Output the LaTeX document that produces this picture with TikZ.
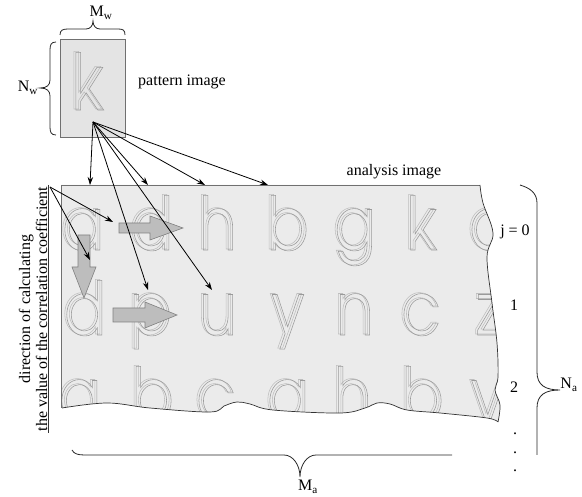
\documentclass[tikz,border=0pt]{standalone}
\usepackage{fontspec}
\setmainfont{Liberation Serif}
\newfontfamily\geofont[FakeStretch=0.82]{texgyreadventor-regular.otf}
\usetikzlibrary{arrows.meta}
\definecolor{imgfill}{HTML}{EBEBEB}
\definecolor{patfill}{HTML}{E4E4E4}
\definecolor{edgegray}{HTML}{707070}
\definecolor{letgray}{HTML}{9A9A9A}
\definecolor{letshade}{HTML}{BEBEBE}
\definecolor{blkfill}{HTML}{BDBDBD}
\definecolor{blkedge}{HTML}{808080}
\newcommand\hollow[1]{\special{pdf:literal direct 1 Tr 0.55 w}#1\special{pdf:literal direct 0 Tr}}
\tikzset{
  lbl/.style={font=\fontsize{16}{17}\selectfont, inner sep=0pt},
  letter/.style={anchor=base, inner sep=0pt, text=letgray, font=\geofont\fontsize{74}{74}\selectfont},
  lettershade/.style={letter, text=letshade, xshift=-2pt, yshift=1pt},
  conn/.style={line width=0.8pt, -{Stealth[length=8pt,width=5.5pt]}},
  blockarrow/.style={fill=blkfill, draw=blkedge, line width=0.6pt, line join=miter},
  bracestyle/.style={line width=0.8pt, draw=black!85}
}
\begin{document}
\begin{tikzpicture}[x=1pt,y=-1pt]
\useasboundingbox (0,0) rectangle (582,497);

% analysis image
\def\anapath{(61,185) -- (480,185) -- plot[smooth, tension=0.6] coordinates {(480,185) (483,203) (493,233) (487,257) (492,303) (497,343) (498,377) (495,390) (500,405) (498,422)} -- plot[smooth, tension=0.6] coordinates {(498,422) (487,418) (440,413) (407,410) (390,404) (377,403) (365,408) (340,413) (273,410) (250,404) (237,402) (224,406) (210,412) (150,408) (107,403) (62,408)} -- cycle}
\fill[imgfill] \anapath;
\begin{scope}
\clip \anapath;
\foreach \ch [count=\i from 0] in {a,d,h,b,g,k,c} {
  \pgfmathsetmacro\xx{{83,152,218,288,355,422,489}[\i]}
  \node[lettershade] (r0s\i) at (\xx,250) {\hollow{\ch}};
  \node[letter] (r0c\i) at (\xx,250) {\hollow{\ch}};
}
\foreach \ch [count=\i from 0] in {d,p,u,y,n,c,z} {
  \pgfmathsetmacro\xx{{85,151,218,288,355,421,490}[\i]}
  \node[lettershade] (r1s\i) at (\xx,335) {\hollow{\ch}};
  \node[letter] (r1c\i) at (\xx,335) {\hollow{\ch}};
}
\foreach \ch [count=\i from 0] in {a,b,c,a,h,b,v} {
  \pgfmathsetmacro\xx{{80,153,216,288,353,423,488}[\i]}
  \node[lettershade] (r2s\i) at (\xx,421) {\hollow{\ch}};
  \node[letter] (r2c\i) at (\xx,421) {\hollow{\ch}};
}
\end{scope}
\draw[edgegray, line width=0.7pt] (61,408) -- (61,185) -- (480,185);
\draw[black!80, line width=0.7pt] plot[smooth, tension=0.6] coordinates {(480,185) (483,203) (493,233) (487,257) (492,303) (497,343) (498,377) (495,390) (500,405) (498,422)};
\draw[black!80, line width=0.7pt] plot[smooth, tension=0.6] coordinates {(498,422) (487,418) (440,413) (407,410) (390,404) (377,403) (365,408) (340,413) (273,410) (250,404) (237,402) (224,406) (210,412) (150,408) (107,403) (62,408)};

% pattern image
\node[draw=edgegray, fill=patfill, line width=0.7pt, minimum width=65pt, minimum height=98pt, anchor=north west, inner sep=0pt] (pattern) at (60,39) {};
\node[lettershade, font=\geofont\fontsize{78}{78}\selectfont] (pks) at (88,110) {\hollow{k}};
\node[letter, font=\geofont\fontsize{78}{78}\selectfont] (pk) at (88,110) {\hollow{k}};

% labels
\node[lbl] (mw) at (101,13) {M\textsubscript{w}};
\node[lbl] (nw) at (28,88) {N\textsubscript{w}};
\node[lbl] (patlbl) at (182,82) {pattern image};
\node[lbl] (analbl) at (394,172) {analysis image};
\node[lbl] (j0) at (515,232) {j = 0};
\node[lbl] (j1) at (514,305) {1};
\node[lbl] (j2) at (514,387) {2};
\node[lbl] (dot1) at (515,434) {.};
\node[lbl] (dot2) at (515,453) {.};
\node[lbl] (dot3) at (515,471) {.};
\node[lbl] (na) at (569,385) {N\textsubscript{a}};
\node[lbl] (ma) at (308,487) {M\textsubscript{a}};
\node[lbl, rotate=90, align=center] (dirtext) at (33,309) {direction of calculating\\the value of the correlation coefficient};
\coordinate (ul1) at (48,185);
\coordinate (ul2) at (48,433);
\draw[line width=0.8pt, black!80] (ul1) -- (ul2);

% braces
\draw[bracestyle] (60,35) .. controls (60,30) and (63,29) .. (68,29) -- (86,29) .. controls (90,29) and (93,26) .. (93,21) .. controls (93,26) and (96,29) .. (100,29) -- (118,29) .. controls (123,29) and (125,30) .. (125,35);
\draw[bracestyle] (56,42) .. controls (51,42) and (50,45) .. (50,50) -- (50,80) .. controls (50,85) and (47,88) .. (40,88) .. controls (47,88) and (50,91) .. (50,96) -- (50,127) .. controls (50,132) and (51,135) .. (56,135);
\draw[bracestyle] (520,185) .. controls (530,188) and (537,193) .. (537,203) -- (537,372) .. controls (537,385) and (545,390) .. (560,390) .. controls (545,390) and (537,395) .. (537,408) -- (537,455);
\draw[bracestyle] (72,450) .. controls (74,454) and (78,455) .. (85,455) -- (284,455) .. controls (293,455) and (300,465) .. (300,477) .. controls (300,465) and (307,455) .. (316,455) -- (452,455);

% block arrows
\draw[blockarrow] (119,223) -- (150,223) -- (150,216) -- (183,228) -- (150,240) -- (150,233) -- (119,233) -- cycle;
\draw[blockarrow] (78,235) -- (90,235) -- (90,267) -- (96,267) -- (84,298) -- (72,267) -- (78,267) -- cycle;
\draw[blockarrow] (113,308) -- (145,308) -- (145,302) -- (177,315) -- (145,328) -- (145,322) -- (113,322) -- cycle;

% connectors
\coordinate (src) at (93,122);
\coordinate (t1) at (90,185);
\coordinate (t2) at (148,185);
\coordinate (t3) at (205,185);
\coordinate (t4) at (268,185);
\coordinate (t5) at (148,290);
\coordinate (t6) at (212,290);
\foreach \t in {t1,t2,t3,t4,t5,t6} \draw[conn] (src) -- (\t);
\coordinate (dsrc) at (50,187);
\coordinate (d1) at (113,222);
\coordinate (d2) at (90,260);
\draw[conn] (dsrc) -- (d1);
\draw[conn] (dsrc) -- (d2);
\end{tikzpicture}
\end{document}
